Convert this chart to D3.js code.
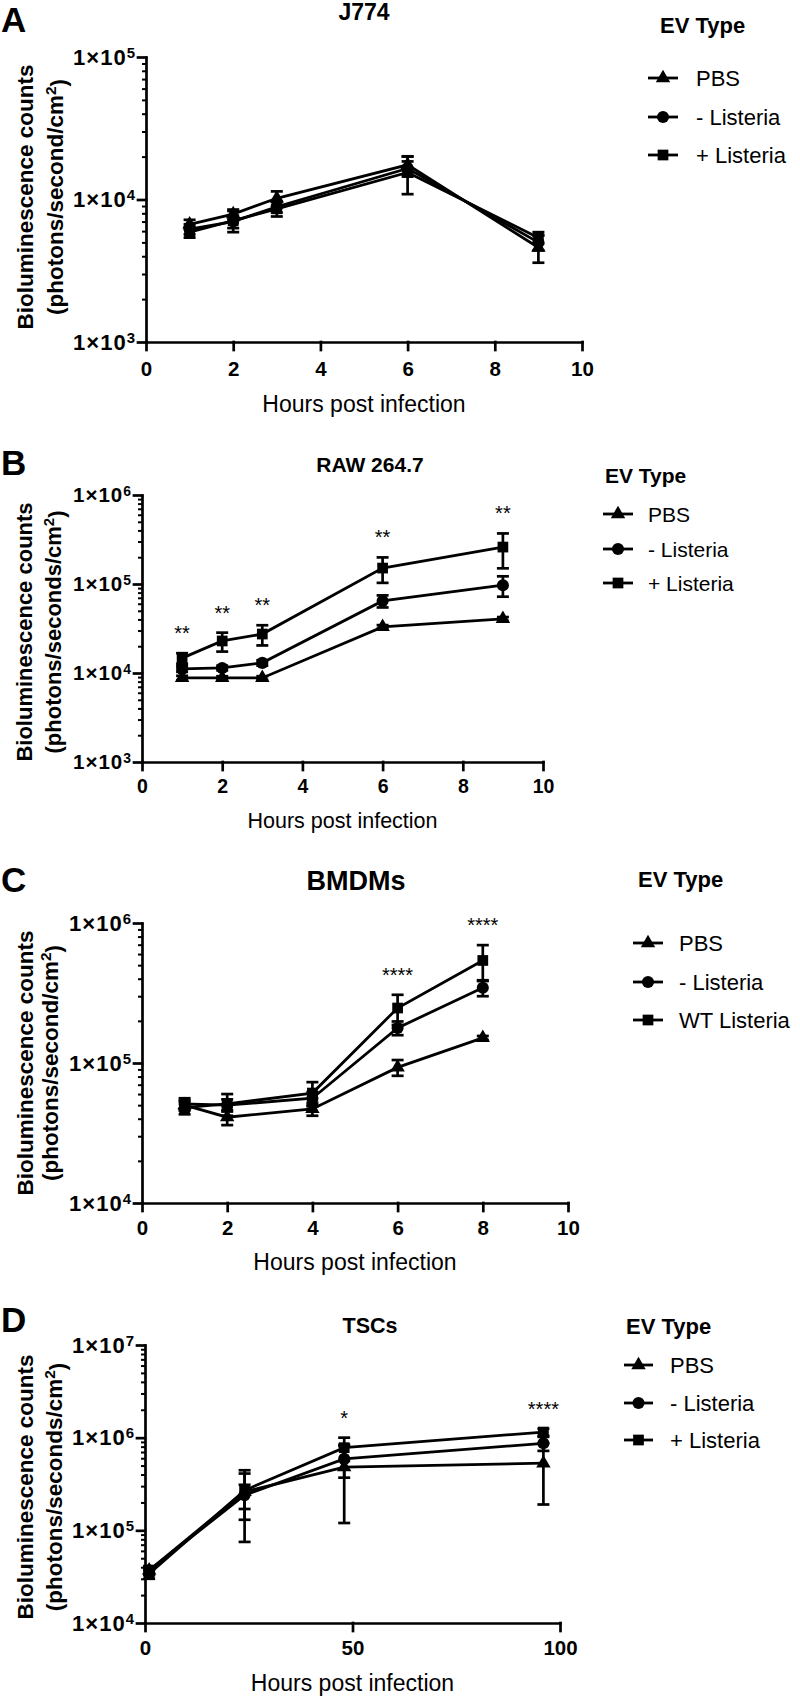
<!DOCTYPE html>
<html><head><meta charset="utf-8">
<script src="https://cdn.jsdelivr.net/npm/d3@7"></script>
<style>
body{margin:0;background:#fff}
svg{display:block}
text{font-family:"Liberation Sans", Arial, sans-serif; fill:#000}
</style>
</head><body>
<svg id="fig" width="800" height="1698"></svg>
<script>
// ---------- DATA ----------
const legendTitle = "EV Type";
const namesABD = ["PBS", "- Listeria", "+ Listeria"];
const namesC = ["PBS", "- Listeria", "WT Listeria"];
const xTitle = "Hours post infection";
const yTitleLine1 = "Bioluminescence counts";

// Panel A - J774
const hoursA = [1, 2, 3, 6, 9];
const pbsA = [6700, 7900, 10200, 17500, 4600];
const pbsErrA = [500, 600, 1200, 2500, 1000];
const negA = [6200, 7000, 8900, 16500, 5000];
const negErrA = [500, 700, 800, 2000, 600];
const posA = [5900, 7100, 8600, 15500, 5400];
const posErrA = [500, 1200, 1000, 4600, 500];
const starsA = ["", "", "", "", ""];
const xTicksA = [0, 2, 4, 6, 8, 10];

// Panel B - RAW 264.7
const hoursB = [1, 2, 3, 6, 9];
const pbsB = [8800, 8800, 8800, 33000, 40500];
const pbsErrB = [500, 400, 400, 1500, 2000];
const negB = [11100, 11400, 13000, 64500, 97000];
const negErrB = [800, 700, 900, 10000, 25000];
const posB = [14700, 22900, 27400, 151000, 260000];
const posErrB = [2000, 5500, 7000, 48000, 110000];
const starsB = ["**", "**", "**", "**", "**"];
const xTicksB = [0, 2, 4, 6, 8, 10];

// Panel C - BMDMs
const hoursC = [1, 2, 4, 6, 8];
const pbsC = [50000, 41000, 47000, 93000, 151000];
const pbsErrC = [4000, 5000, 5000, 12000, 5000];
const negC = [51000, 50000, 56000, 178000, 345000];
const negErrC = [5000, 5000, 6000, 20000, 45000];
const wtC = [48000, 51000, 61000, 247000, 540000];
const wtErrC = [5000, 9000, 12000, 60000, 155000];
const starsC = ["", "", "", "****", "****"];
const xTicksC = [0, 2, 4, 6, 8, 10];

// Panel D - TSCs
const hoursD = [1, 24, 48, 96];
const pbsD = [37000, 260000, 480000, 530000];
const pbsErrD = [4000, 185000, 360000, 340000];
const negD = [37000, 240000, 590000, 870000];
const negErrD = [4000, 70000, 220000, 150000];
const posD = [34000, 270000, 780000, 1150000];
const posErrD = [4000, 140000, 220000, 100000];
const starsD = ["", "", "*", "****"];
const xTicksD = [0, 50, 100];

// ---------- LAYOUT ----------
const markers = [d3.symbolTriangle, d3.symbolCircle, d3.symbolSquare];
const markerSize = [90, 115, 115];

const panels = [
  { letter: "A", title: "J774", titleX: 364, titleY: 20, titleSize: 23, letterY: 32,
    left: 146, right: 582, top: 57, bottom: 342, xDomain: [0, 10], yDomain: [1e3, 1e5],
    xTicks: xTicksA, hours: hoursA, stars: starsA,
    series: [[pbsA, pbsErrA], [negA, negErrA], [posA, posErrA]], names: namesABD,
    yTitle2: "(photons/second/cm", xTitleY: 412, xTitleSize: 23, xPad: 11,
    yT1: 33, yT2: 63, yTSize: 22.5, yTCenter: 197, tickSize: 22, xTickSize: 20.5,
    legX: 660, legY: 33, legRows: [78, 117, 155], legL: 648, legR: 678, legText: 696, legSize: 22 },
  { letter: "B", title: "RAW 264.7", titleX: 370, titleY: 472, titleSize: 21, letterY: 475,
    left: 142, right: 543, top: 495, bottom: 762, xDomain: [0, 10], yDomain: [1e3, 1e6],
    xTicks: xTicksB, hours: hoursB, stars: starsB,
    series: [[pbsB, pbsErrB], [negB, negErrB], [posB, posErrB]], names: namesABD,
    yTitle2: "(photons/seconds/cm", xTitleY: 828, xTitleSize: 21.5, xPad: 9,
    yT1: 32, yT2: 61, yTSize: 22, yTCenter: 632, tickSize: 20.5, xTickSize: 19.5,
    legX: 605, legY: 483, legRows: [514, 549, 583], legL: 603, legR: 633, legText: 648, legSize: 21 },
  { letter: "C", title: "BMDMs", titleX: 356, titleY: 890, titleSize: 27, letterY: 892,
    left: 142, right: 568, top: 923, bottom: 1203, xDomain: [0, 10], yDomain: [1e4, 1e6],
    xTicks: xTicksC, hours: hoursC, stars: starsC,
    series: [[pbsC, pbsErrC], [negC, negErrC], [wtC, wtErrC]], names: namesC,
    yTitle2: "(photons/second/cm", xTitleY: 1270, xTitleSize: 23, xPad: 9,
    yT1: 33, yT2: 58, yTSize: 22.5, yTCenter: 1063, tickSize: 22, xTickSize: 20.5,
    legX: 638, legY: 887, legRows: [943, 982, 1020], legL: 633, legR: 663, legText: 679, legSize: 22 },
  { letter: "D", title: "TSCs", titleX: 370, titleY: 1333, titleSize: 21.5, letterY: 1332,
    left: 145, right: 560, top: 1345, bottom: 1623, xDomain: [0, 100], yDomain: [1e4, 1e7],
    xTicks: xTicksD, hours: hoursD, stars: starsD,
    series: [[pbsD, pbsErrD], [negD, negErrD], [posD, posErrD]], names: namesABD,
    yTitle2: "(photons/seconds/cm", xTitleY: 1691, xTitleSize: 23, xPad: 9,
    yT1: 33, yT2: 62, yTSize: 22.5, yTCenter: 1487, tickSize: 22, xTickSize: 20.5,
    legX: 626, legY: 1334, legRows: [1365, 1403, 1440], legL: 624, legR: 653, legText: 670, legSize: 22 }
];

const fig = d3.select("#fig");
fig.append("rect").attr("width", 800).attr("height", 1698).attr("fill", "#fff");

function styleAxis(sel) {
  sel.selectAll("path, line").attr("stroke", "#000").attr("stroke-width", 2.7).attr("stroke-linecap", "square");
}

function drawPanel(p) {
  const g = fig.append("g");
  const x = d3.scaleLinear().domain(p.xDomain).range([p.left, p.right]);
  const y = d3.scaleLog().domain(p.yDomain).range([p.bottom, p.top]);
  const lo = Math.round(Math.log10(p.yDomain[0])), hi = Math.round(Math.log10(p.yDomain[1]));
  const majors = d3.range(lo, hi + 1).map(k => Math.pow(10, k));
  const minors = [];
  for (let k = lo; k < hi; k++) for (let m = 2; m <= 9; m++) minors.push(m * Math.pow(10, k));

  // minor y ticks
  g.append("g").attr("transform", `translate(${p.left},0)`)
    .call(d3.axisLeft(y).tickValues(minors).tickSize(4).tickFormat(""))
    .call(s => s.select(".domain").remove())
    .call(s => s.selectAll("line").attr("stroke", "#000").attr("stroke-width", 2));

  // major y axis
  const ya = g.append("g").attr("transform", `translate(${p.left},0)`)
    .call(d3.axisLeft(y).tickValues(majors).tickSize(8).tickSizeOuter(0).tickPadding(2));
  styleAxis(ya);
  ya.selectAll(".tick text").each(function (d) {
    const t = d3.select(this);
    t.text(null).attr("font-size", p.tickSize).attr("font-weight", "bold").attr("fill", "#000")
      .attr("font-family", "'Liberation Sans', Arial, sans-serif").attr("letter-spacing", 1);
    t.append("tspan").text("1×10");
    t.append("tspan").attr("dy", "-0.45em").attr("font-size", "0.68em").text(Math.round(Math.log10(d)));
  });

  // x axis
  const xa = g.append("g").attr("transform", `translate(0,${p.bottom})`)
    .call(d3.axisBottom(x).tickValues(p.xTicks).tickSize(8).tickSizeOuter(0).tickPadding(p.xPad));
  styleAxis(xa);
  xa.selectAll(".tick text").attr("font-size", p.xTickSize).attr("font-weight", "bold").attr("fill", "#000")
    .attr("font-family", "'Liberation Sans', Arial, sans-serif");

  // series
  const line = d3.line().x((d, i) => x(p.hours[i])).y(d => y(d));
  p.series.forEach(([vals, errs], si) => {
    const sg = g.append("g");
    vals.forEach((v, i) => {
      const cx = x(p.hours[i]);
      const y1 = y(v + errs[i]), y0 = y(Math.max(v - errs[i], p.yDomain[0]));
      sg.append("line").attr("x1", cx).attr("x2", cx).attr("y1", y1).attr("y2", y0)
        .attr("stroke", "#000").attr("stroke-width", 2.7);
      [y1, y0].forEach(yy => sg.append("line").attr("x1", cx - 6).attr("x2", cx + 6)
        .attr("y1", yy).attr("y2", yy).attr("stroke", "#000").attr("stroke-width", 2.7));
    });
    sg.append("path").attr("d", line(vals)).attr("fill", "none").attr("stroke", "#000").attr("stroke-width", 2.8);
    vals.forEach((v, i) => {
      sg.append("path").attr("d", d3.symbol().type(markers[si]).size(markerSize[si])())
        .attr("transform", `translate(${x(p.hours[i])},${y(v)})`).attr("fill", "#000");
    });
  });

  // significance stars
  p.stars.forEach((s, i) => {
    if (!s) return;
    const top = d3.max(p.series, ([vals, errs]) => vals[i] + errs[i]);
    const cy = y(top) - 24;
    g.append("text").attr("x", x(p.hours[i])).attr("y", cy + 11).attr("text-anchor", "middle")
      .attr("font-size", 20).text(s);
  });

  // titles
  g.append("text").attr("x", p.titleX).attr("y", p.titleY).attr("text-anchor", "middle")
    .attr("font-weight", "bold").attr("font-size", p.titleSize).text(p.title);
  g.append("text").attr("x", 1).attr("y", p.letterY).attr("font-family", "'Open Sans', sans-serif")
    .attr("font-weight", "bold").attr("font-size", 35).text(p.letter);
  g.append("text").attr("x", (p.left + p.right) / 2).attr("y", p.xTitleY).attr("text-anchor", "middle")
    .attr("font-size", p.xTitleSize).text(xTitle);
  const yc = p.yTCenter;
  g.append("text").attr("transform", `translate(${p.yT1},${yc}) rotate(-90)`).attr("text-anchor", "middle")
    .attr("font-weight", "bold").attr("font-size", p.yTSize).text(yTitleLine1);
  const t2 = g.append("text").attr("transform", `translate(${p.yT2},${yc}) rotate(-90)`).attr("text-anchor", "middle")
    .attr("font-weight", "bold").attr("font-size", p.yTSize);
  t2.append("tspan").text(p.yTitle2);
  t2.append("tspan").attr("dy", "-0.45em").attr("font-size", "0.68em").text("2");
  t2.append("tspan").attr("dy", "0.45em").text(")");

  // legend
  g.append("text").attr("x", p.legX).attr("y", p.legY).attr("font-weight", "bold")
    .attr("font-size", p.legSize).text(legendTitle);
  p.names.forEach((n, i) => {
    const ly = p.legRows[i];
    g.append("line").attr("x1", p.legL).attr("x2", p.legR).attr("y1", ly).attr("y2", ly)
      .attr("stroke", "#000").attr("stroke-width", 2.8);
    g.append("path").attr("d", d3.symbol().type(markers[i]).size(markerSize[i])())
      .attr("transform", `translate(${(p.legL + p.legR) / 2},${ly})`).attr("fill", "#000");
    g.append("text").attr("x", p.legText).attr("y", ly + p.legSize * 0.36).attr("font-size", p.legSize).text(n);
  });
}

panels.forEach(drawPanel);
</script>
</body></html>
